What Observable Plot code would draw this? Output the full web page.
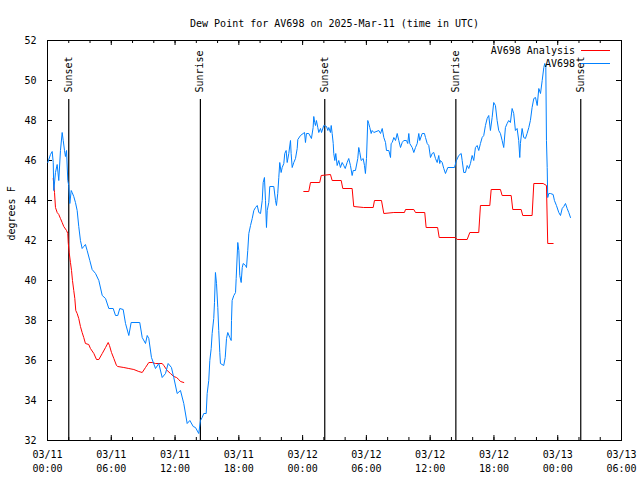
<!DOCTYPE html>
<html><head><meta charset="utf-8">
<script src="https://cdn.jsdelivr.net/npm/d3@7"></script>
<script src="https://cdn.jsdelivr.net/npm/@observablehq/plot@0.6"></script>
<style>body{margin:0;background:#fff} svg{display:block}</style>
</head><body><div id="chart"></div>
<script>
const title = "Dew Point for AV698 on 2025-Mar-11 (time in UTC)";
const yLabel = "degrees F";
const startTime = "2025-03-11T00:00Z";
const endTime = "2025-03-13T06:00Z";
const yTicks = [32, 34, 36, 38, 40, 42, 44, 46, 48, 50, 52];
const seriesNames = ["AV698 Analysis", "AV698"];
const seriesColors = ["#ff0000", "#0080ff"];

// Observations (hours since 2025-03-11 00:00 UTC, degrees F)
const obsHours = [0.03,0.28,0.44,0.54,0.59,0.75,0.91,1.06,1.22,1.38,1.48,1.60,1.69,1.79,1.91,2.00,2.10,2.23,2.32,2.47,2.63,2.79,2.94,3.10,3.26,3.41,3.57,3.73,3.98,4.20,4.52,4.83,5.15,5.46,5.77,6.18,6.40,6.61,6.80,7.12,7.34,7.65,7.87,8.68,8.91,9.22,9.38,9.53,9.78,10.16,10.47,10.79,11.10,11.35,11.66,11.88,12.20,12.51,12.82,13.14,13.39,13.71,13.92,14.23,14.39,14.55,14.70,14.93,15.02,15.17,15.27,15.40,15.49,15.64,15.71,15.80,15.90,16.02,16.11,16.21,16.27,16.58,16.72,16.84,16.96,17.15,17.28,17.31,17.37,17.53,17.69,17.75,17.90,18.00,18.09,18.22,18.32,18.41,18.63,18.72,18.84,18.94,19.10,19.26,19.41,19.57,19.73,19.88,20.04,20.20,20.29,20.41,20.51,20.60,20.67,20.82,20.91,21.29,21.45,21.54,21.66,21.76,21.85,21.98,22.08,22.23,22.32,22.45,22.55,22.70,22.86,22.92,23.02,23.17,23.33,23.49,23.55,23.80,24.05,24.18,24.27,24.36,24.58,24.83,24.99,25.05,25.14,25.21,25.30,25.43,25.52,25.68,25.78,25.99,26.25,26.37,26.46,26.62,26.69,26.78,26.88,26.93,27.03,27.12,27.25,27.40,27.56,27.72,27.87,28.01,28.19,28.34,28.50,28.66,28.76,28.97,29.19,29.28,29.38,29.51,29.70,29.82,29.91,30.01,30.13,30.22,30.32,30.45,30.54,30.70,31.17,31.33,31.49,31.64,31.80,31.89,32.11,32.27,32.33,32.43,32.58,32.74,32.90,33.05,33.21,33.37,33.52,33.77,33.89,33.99,34.08,34.31,34.46,34.62,34.78,34.93,35.02,35.25,35.46,35.56,35.72,35.87,36.03,36.19,36.34,36.50,36.66,36.81,36.90,36.97,37.13,37.28,37.44,37.66,38.29,38.47,38.69,38.92,39.01,39.16,39.32,39.48,39.63,39.79,39.95,40.10,40.26,40.42,40.57,40.73,40.89,41.04,41.20,41.36,41.51,41.67,41.83,41.98,42.14,42.30,42.45,42.61,42.77,42.92,43.08,43.24,43.39,43.55,43.71,43.86,44.02,44.18,44.33,44.43,44.49,44.65,44.80,44.96,45.12,45.28,45.43,45.59,45.75,45.91,46.07,46.22,46.38,46.54,46.69,46.78,46.88,46.94,47.01,47.06,47.16,47.32,47.57,47.69,47.88,48.10,48.26,48.42,48.57,48.73,48.89,49.04,49.20];
const obsValues = [45.9,46.3,46.45,45.9,44.5,45.4,45.8,45.0,46.5,47.4,47.0,46.5,46.2,46.5,45.0,44.75,43.85,44.5,44.4,44.2,43.9,43.5,42.7,42.0,41.6,41.7,41.8,41.5,41.0,40.55,40.35,40.0,39.25,39.1,38.6,38.6,38.25,38.25,38.6,38.55,37.85,37.25,37.9,37.9,37.15,36.85,37.25,37.1,36.15,35.6,35.85,35.15,35.35,35.85,35.65,35.15,34.35,34.5,33.85,32.85,33.0,32.7,32.65,32.35,33.0,33.15,33.35,33.35,34.35,35.0,36.0,36.6,37.35,38.1,38.9,40.4,39.85,38.65,37.5,36.4,35.85,35.75,36.15,37.1,37.4,37.15,37.0,38.0,39.0,39.25,39.4,40.1,41.9,41.5,40.25,39.9,40.65,40.85,40.75,40.65,41.5,42.35,42.75,43.1,43.5,43.65,43.75,43.4,43.35,44.0,44.9,45.15,44.0,42.65,43.5,43.9,44.7,44.7,44.0,43.75,44.35,45.15,45.9,45.4,45.65,45.85,46.35,46.5,45.9,46.35,47.0,46.35,45.65,45.9,46.1,46.6,47.05,47.25,47.35,47.4,46.9,47.35,47.35,47.1,47.65,48.2,47.9,47.75,48.0,47.65,47.4,47.6,47.4,47.75,47.7,47.5,47.65,47.4,47.75,47.35,46.85,46.35,46.0,46.35,45.75,46.0,45.65,45.9,45.75,45.6,45.9,46.1,45.75,45.25,45.5,45.5,46.1,46.65,46.4,46.0,46.1,45.75,45.35,46.1,48.0,47.85,47.65,47.35,47.5,47.4,47.5,47.35,47.6,47.15,46.9,46.5,46.5,46.15,46.85,46.9,47.15,47.0,47.35,47.0,46.65,46.9,47.0,47.0,46.85,47.35,46.85,46.65,46.4,46.65,46.85,47.35,47.0,47.35,47.35,47.15,46.85,46.75,46.15,46.35,46.4,46.1,45.9,46.25,45.85,46.0,45.9,45.6,45.35,45.65,45.65,46.0,46.25,46.35,46.0,45.4,45.4,45.75,45.6,45.85,46.25,46.0,46.65,46.75,46.5,46.85,47.15,47.25,47.75,48.1,48.25,47.5,48.15,48.9,48.75,48.0,47.5,47.35,47.0,46.65,47.65,47.85,48.0,47.9,48.6,48.35,47.5,47.6,47.0,46.15,46.85,47.6,47.15,47.1,47.35,47.65,48.0,48.65,49.1,49.15,48.75,49.6,49.35,50.0,50.65,50.85,50.65,47.0,45.65,44.15,44.35,44.35,44.3,44.0,43.75,43.4,43.25,43.6,43.7,43.85,43.6,43.4,43.15];

// Analysis, first run
const anaHours1 = [0.54,0.66,0.75,0.91,1.06,1.22,1.38,1.53,1.79,1.91,1.95,2.04,2.16,2.26,2.35,2.47,2.57,2.66,2.79,2.94,3.10,3.26,3.41,3.57,3.88,4.04,4.36,4.61,4.83,5.15,5.46,5.71,5.83,6.02,6.24,6.49,6.61,7.18,7.65,8.12,8.59,8.91,9.22,9.53,9.85,10.16,10.79,10.94,11.26,11.57,11.88,12.14,12.35,12.51,12.82];
const anaValues1 = [45.1,44.4,43.65,43.4,43.3,43.1,42.9,42.7,42.5,42.35,41.9,41.4,40.9,40.5,40.0,39.5,39.1,38.5,38.35,38.1,37.7,37.4,37.15,36.85,36.8,36.6,36.35,36.05,36.05,36.35,36.65,36.9,36.75,36.4,36.1,35.75,35.7,35.65,35.6,35.55,35.45,35.4,35.65,35.9,35.9,35.85,35.85,35.75,35.5,35.35,35.2,35.15,35.05,34.95,34.9];
// Analysis, second run
const anaHours2 = [24.11,24.58,24.74,25.61,25.75,26.62,26.78,27.63,27.78,28.66,28.81,29.75,30.64,30.76,31.42,31.64,32.58,33.58,33.68,34.46,34.62,35.49,35.62,36.70,36.85,38.38,38.54,39.48,39.73,40.57,40.73,41.61,41.74,42.61,42.77,43.62,43.77,44.56,44.71,45.59,45.75,46.63,46.94,47.06,47.57];
const anaValues2 = [44.45,44.45,44.9,44.9,45.25,45.3,45.0,45.0,44.6,44.6,43.7,43.65,43.65,44.0,44.0,43.35,43.4,43.4,43.55,43.55,43.4,43.4,42.65,42.65,42.15,42.15,42.05,42.05,42.4,42.4,43.75,43.75,44.55,44.55,44.25,44.25,43.55,43.55,43.25,43.25,44.85,44.85,44.75,41.85,41.85];

const eventTimes = ["2025-03-11T02:00Z","2025-03-11T14:23Z","2025-03-12T02:05Z","2025-03-12T14:25Z","2025-03-13T02:10Z"];
const eventLabels = ["Sunset","Sunrise","Sunset","Sunrise","Sunset"];

// ---- build tables ----
const t0 = new Date(startTime), t1 = new Date(endTime);
const toDate = h => new Date(+t0 + h * 3600000);
const obs = obsHours.map((h, i) => ({time: toDate(h), value: obsValues[i]}));
const ana = [
  ...anaHours1.map((h, i) => ({time: toDate(h), value: anaValues1[i], run: 1})),
  ...anaHours2.map((h, i) => ({time: toDate(h), value: anaValues2[i], run: 2}))
];
const events = eventTimes.map((t, i) => ({time: new Date(t), label: eventLabels[i]}));
const majorTicks = d3.utcHour.every(6).range(t0, new Date(+t1 + 1));
const minorTicks = d3.utcHour.every(2).range(t0, new Date(+t1 + 1));
const fmt = d3.utcFormat("%m/%d\n%H:%M");

const W = 640, H = 480, mL = 47, mR = 19, mT = 40, mB = 40;
const fw = W - mL - mR, fh = H - mT - mB;
const font = "DejaVu Sans Mono, monospace";

function legend(index, scales, values, dims) {
  const g = d3.create("svg:g").attr("font-family", font).attr("font-size", 10);
  const right = dims.width - dims.marginRight;
  seriesNames.forEach((name, i) => {
    const y = dims.marginTop + 10.5 + i * 13;
    g.append("text").attr("x", right - 46).attr("y", y).attr("dy", "0.32em")
      .attr("text-anchor", "end").attr("fill", "black").text(name);
    g.append("line").attr("x1", right - 40).attr("x2", right - 11)
      .attr("y1", y).attr("y2", y).attr("stroke", seriesColors[i]).attr("stroke-width", 1);
  });
  return g.node();
}

const chart = Plot.plot({
  width: W, height: H,
  marginLeft: mL, marginRight: mR, marginTop: mT, marginBottom: mB,
  style: {fontFamily: font, fontSize: "10px", background: "white", color: "black"},
  x: {type: "utc", domain: [t0, t1], axis: null},
  y: {domain: [32, 52], axis: null},
  marks: [
    Plot.frame({stroke: "black"}),
    Plot.tickY(yTicks, {y: d => d, insetRight: fw - 5}),
    Plot.tickY(yTicks, {y: d => d, insetLeft: fw - 5}),
    Plot.tickX(majorTicks, {x: d => d, insetTop: fh - 5}),
    Plot.tickX(majorTicks, {x: d => d, insetBottom: fh - 5}),
    Plot.tickX(minorTicks, {x: d => d, insetTop: fh - 3}),
    Plot.tickX(minorTicks, {x: d => d, insetBottom: fh - 3}),
    Plot.text(yTicks, {y: d => d, text: d => String(d), frameAnchor: "left", dx: -11, textAnchor: "end"}),
    Plot.text(majorTicks, {x: d => d, text: fmt, frameAnchor: "bottom", lineAnchor: "top", dy: 8, lineHeight: 1.4}),
    Plot.ruleX(events, {x: "time", insetTop: 59, stroke: "black", strokeWidth: 1.2}),
    Plot.text(events, {x: "time", text: "label", frameAnchor: "top", dy: 52, dx: -4, rotate: -90, textAnchor: "start"}),
    Plot.line(ana, {x: "time", y: "value", z: "run", stroke: seriesColors[0], strokeWidth: 1, curve: "linear"}),
    Plot.line(obs, {x: "time", y: "value", stroke: seriesColors[1], strokeWidth: 1, curve: "linear"}),
    legend,
    Plot.text([title], {frameAnchor: "top", dy: -21}),
    Plot.text([yLabel], {frameAnchor: "left", dx: -36, rotate: -90})
  ]
});
document.getElementById("chart").append(chart);
</script>
</body></html>
